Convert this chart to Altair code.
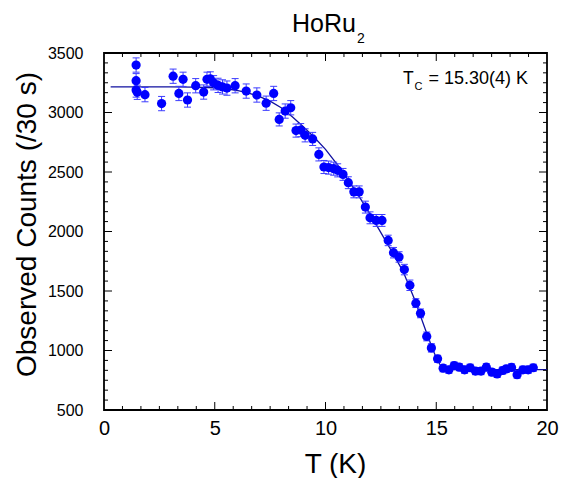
import altair as alt
import pandas as pd

# ---------------- data ----------------
T = [1.45, 1.45, 1.45, 1.5, 1.85, 2.6, 3.12, 3.38, 3.57, 3.77,
     4.14, 4.5, 4.65, 4.8, 4.95, 5.15, 5.35, 5.55, 5.92, 6.42,
     6.9, 7.32, 7.66, 7.91, 8.18, 8.43, 8.67, 8.88, 9.08, 9.42,
     9.70, 9.93, 10.14, 10.37, 10.55, 10.79, 11.03, 11.28, 11.52, 11.80,
     12.01, 12.29, 12.55, 12.83, 13.07, 13.32, 13.56, 13.81, 14.08, 14.29,
     14.57, 14.78, 15.06, 15.31, 15.57, 15.81, 16.04, 16.28, 16.53, 16.77,
     17.02, 17.26, 17.51, 17.75, 18.0, 18.16, 18.40, 18.65, 18.91, 19.15,
     19.38]
counts = [3399, 3267, 3189, 3170, 3150, 3075, 3305, 3160, 3279, 3105,
          3225, 3172, 3279, 3282, 3250, 3228, 3215, 3205, 3225, 3180,
          3147, 3078, 3160, 2942, 3012, 3040, 2848, 2852, 2808, 2778,
          2648, 2542, 2537, 2528, 2514, 2480, 2410, 2333, 2333, 2205,
          2115, 2093, 2093, 1925, 1822, 1786, 1680, 1548, 1398, 1312,
          1118, 1022, 930, 851, 838, 873, 860, 838, 855, 827,
          827, 860, 818, 803, 832, 845, 858, 797, 838, 838,
          855]
err = [60, 60, 60, 60, 60, 60, 60, 60, 60, 60,
       60, 60, 60, 60, 60, 60, 60, 60, 60, 60,
       60, 60, 60, 55, 60, 60, 55, 55, 55, 55,
       55, 55, 55, 55, 55, 50, 50, 50, 50, 50,
       50, 50, 50, 44, 44, 44, 44, 44, 37, 37,
       37, 35, 30, 30, 30, 30, 30, 30, 30, 30,
       30, 30, 30, 30, 30, 30, 30, 30, 30, 30,
       30]

fit_T = [0.3, 1, 2, 3, 4, 5, 5.5, 6, 6.5, 7, 7.5, 8, 8.5, 9, 9.5, 10, 10.5,
         11, 11.5, 12, 12.5, 13, 13.5, 14, 14.5, 14.8, 15.0, 15.2, 15.3,
         16, 17, 18, 19, 20]
fit_I = [3215, 3215, 3215, 3215, 3214, 3208, 3200, 3185, 3165, 3135, 3095,
         3040, 2965, 2880, 2790, 2690, 2570, 2440, 2300, 2150, 1990, 1830,
         1665, 1440, 1180, 1030, 940, 870, 840, 840, 840, 840, 840, 840]

x_major = [0, 5, 10, 15, 20]
y_major = [500, 1000, 1500, 2000, 2500, 3000, 3500]
x_minor = [k * 5 / 6 for k in range(25) if k % 6]
y_minor = [500 + k * 500 / 6 for k in range(37) if k % 6]

TITLE_MAIN, TITLE_SUB = "HoRu", "2"
ANN_T, ANN_SUB, ANN_REST = "T", "C", "= 15.30(4) K"
X_TITLE = "T (K)"
Y_TITLE = "Observed Counts (/30 s)"

# ---------------- styling ----------------
W, H = 443, 357
FONT = "Liberation Sans"
BLUE = "#0000ff"
BAR = "#3c3cff"
LINE = "#1010a0"

df = pd.DataFrame({"T": T, "I": counts,
                   "lo": [c - e for c, e in zip(counts, err)],
                   "hi": [c + e for c, e in zip(counts, err)]})
fit_df = pd.DataFrame({"T": fit_T, "I": fit_I})

xs = alt.Scale(domain=[0, 20], nice=False, zero=False)
ys = alt.Scale(domain=[500, 3500], nice=False, zero=False)

x_axis = alt.Axis(values=x_major, format="d", labelFont=FONT, labelFontSize=20,
                  labelColor="black", labelPadding=8, labelFlush=False,
                  labelOverlap=False, ticks=False, domain=False, grid=False,
                  title=X_TITLE, titleFont=FONT, titleFontSize=28,
                  titleFontWeight="normal", titleColor="black",
                  titleX=231, titleY=62, titleBaseline="alphabetic",
                  titleAlign="center")
y_axis = alt.Axis(values=y_major, format="d", labelFont=FONT, labelFontSize=16,
                  labelColor="black", labelPadding=21, labelFlush=False,
                  labelOverlap=False, ticks=False, domain=False, grid=False,
                  title=Y_TITLE, titleFont=FONT, titleFontSize=28,
                  titleFontWeight="normal", titleColor="black",
                  titleX=-69, titleY=171, titleBaseline="alphabetic",
                  titleAlign="center", titleAngle=270)

fit = alt.Chart(fit_df).mark_line(color=LINE, strokeWidth=1.3).encode(
    x=alt.X("T:Q", scale=xs, axis=x_axis),
    y=alt.Y("I:Q", scale=ys, axis=y_axis))

bars = alt.Chart(df).mark_rule(color=BAR, strokeWidth=1).encode(
    x="T:Q", y="lo:Q", y2="hi:Q")
cap_hi = alt.Chart(df).mark_tick(orient="horizontal", size=7, thickness=1,
                                 color=BAR, opacity=1).encode(x="T:Q", y="hi:Q")
cap_lo = alt.Chart(df).mark_tick(orient="horizontal", size=7, thickness=1,
                                 color=BAR, opacity=1).encode(x="T:Q", y="lo:Q")
pts = alt.Chart(df).mark_circle(size=85, color=BLUE, opacity=1).encode(
    x="T:Q", y="I:Q")


def xticks(vals, length):
    d = pd.DataFrame({"T": vals})
    bot = alt.Chart(d).mark_rule(color="black", strokeWidth=1).encode(
        x="T:Q", y=alt.value(H), y2=alt.value(H - length))
    top = alt.Chart(d).mark_rule(color="black", strokeWidth=1).encode(
        x="T:Q", y=alt.value(0), y2=alt.value(length))
    return [bot, top]


def yticks(vals, length):
    d = pd.DataFrame({"I": vals})
    left = alt.Chart(d).mark_rule(color="black", strokeWidth=1).encode(
        y="I:Q", x=alt.value(0), x2=alt.value(length))
    right = alt.Chart(d).mark_rule(color="black", strokeWidth=1).encode(
        y="I:Q", x=alt.value(W), x2=alt.value(W - length))
    return [left, right]


def label(text, x, y, size):
    return alt.Chart(pd.DataFrame({"s": [text]})).mark_text(
        font=FONT, fontSize=size, align="left", baseline="alphabetic",
        color="black").encode(x=alt.value(x), y=alt.value(y), text="s:N")


layers = [fit, bars, cap_hi, cap_lo, pts]
layers += xticks(x_major[1:-1], 8) + xticks(x_minor, 4)
layers += yticks(y_major[1:-1], 8) + yticks(y_minor, 4)
layers += [
    label(TITLE_MAIN, 188, -21.5, 25),
    label(TITLE_SUB, 253, -10.5, 14),
    label(ANN_T, 299, 30.7, 17.5),
    label(ANN_SUB, 310.5, 37, 11),
    label(ANN_REST, 324.5, 30.7, 18),
]

chart = alt.layer(*layers).properties(
    width=W, height=H,
    padding={"left": 96, "top": 45, "right": 12, "bottom": 68},
    autosize=alt.AutoSizeParams(type="none"),
    background="white",
).configure_view(stroke="black", strokeWidth=1.8)

chart.save("out.html", embed_options={"renderer": "svg", "actions": False})
